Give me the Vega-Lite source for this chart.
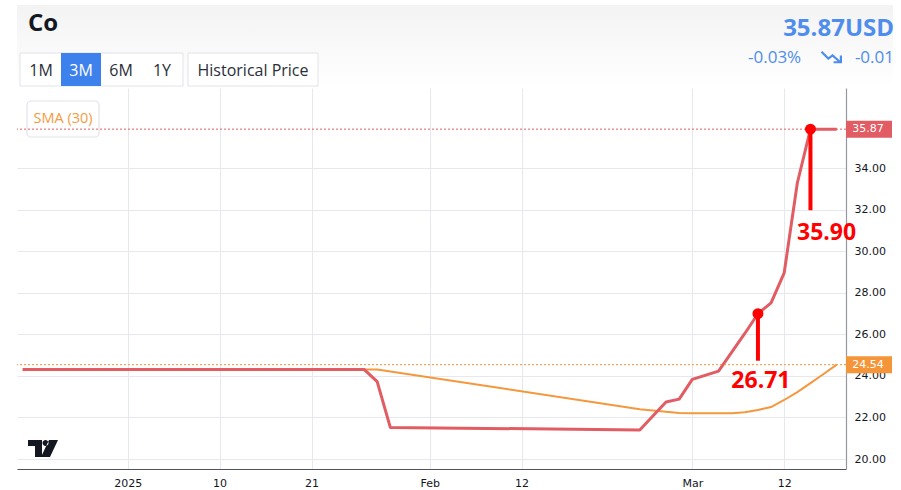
{
  "$schema": "https://vega.github.io/schema/vega-lite/v6.json",
  "width": 829,
  "height": 381,
  "autosize": "none",
  "padding": {"left": 17, "top": 88, "right": 55, "bottom": 21},
  "background": "white",
  "config": {
    "view": {"stroke": null},
    "axis": {"labelFont": "DejaVu Sans", "labelFontSize": 11, "labelColor": "#131722", "gridColor": "#e6e8ee", "gridWidth": 1, "ticks": false}
  },
  "datasets": {
    "price": [
      {"date": "2024-12-20", "value": 24.31},
      {"date": "2025-01-27", "value": 24.31},
      {"date": "2025-01-28", "value": 23.72},
      {"date": "2025-01-29", "value": 21.52},
      {"date": "2025-02-25", "value": 21.40},
      {"date": "2025-02-27", "value": 22.74},
      {"date": "2025-02-28", "value": 22.88},
      {"date": "2025-03-03", "value": 23.83},
      {"date": "2025-03-05", "value": 24.23},
      {"date": "2025-03-07", "value": 26.04},
      {"date": "2025-03-10", "value": 26.99},
      {"date": "2025-03-11", "value": 27.51},
      {"date": "2025-03-12", "value": 28.96},
      {"date": "2025-03-13", "value": 33.28},
      {"date": "2025-03-14", "value": 35.87},
      {"date": "2025-03-18", "value": 35.87}
    ],
    "sma": [
      {"date": "2024-12-20", "value": 24.31},
      {"date": "2025-01-28", "value": 24.31},
      {"date": "2025-02-25", "value": 22.40},
      {"date": "2025-02-26", "value": 22.33},
      {"date": "2025-02-27", "value": 22.27},
      {"date": "2025-02-28", "value": 22.22},
      {"date": "2025-03-03", "value": 22.20},
      {"date": "2025-03-06", "value": 22.20},
      {"date": "2025-03-07", "value": 22.25},
      {"date": "2025-03-10", "value": 22.36},
      {"date": "2025-03-11", "value": 22.50},
      {"date": "2025-03-12", "value": 22.84},
      {"date": "2025-03-13", "value": 23.22},
      {"date": "2025-03-14", "value": 23.65},
      {"date": "2025-03-17", "value": 24.09},
      {"date": "2025-03-18", "value": 24.54}
    ],
    "levels": [
      {"series": "price", "value": 35.87, "label": "35.87"},
      {"series": "sma", "value": 24.54, "label": "24.54"}
    ],
    "notes": [
      {"date": "2025-03-10", "value": 26.99, "end": 24.73, "label": "26.71", "labelDate": "2025-03-10", "labelValue": 23.40},
      {"date": "2025-03-14", "value": 35.87, "end": 31.97, "label": "35.90", "labelDate": "2025-03-17", "labelValue": 30.53}
    ]
  },
  "layer": [
    {
      "data": {"values": [{}]},
      "mark": {"type": "rect", "x": 0, "x2": 876, "y": -83, "y2": 0,
        "fill": {"gradient": "linear", "x1": 0, "y1": 0, "x2": 0, "y2": 1, "stops": [{"offset": 0, "color": "#f3f3f3"}, {"offset": 1, "color": "#ffffff"}]}},
      "encoding": {}
    },
    {
      "data": {"values": [{}]},
      "mark": {"type": "rule", "x": -16, "x2": -16, "y": -88, "y2": 402, "color": "#8a8a8a", "strokeWidth": 2.5},
      "encoding": {}
    },
    {
      "data": {"values": [{}]},
      "mark": {"type": "rule", "x": 0, "x2": 876, "y": -83, "y2": -83, "color": "#555555", "strokeWidth": 1.5},
      "encoding": {}
    },
    {
      "data": {"values": [{}]},
      "mark": {"type": "rule", "x": 0, "x2": 0, "y": -83, "y2": 402, "color": "#444444", "strokeWidth": 1.5},
      "encoding": {}
    },
    {
      "data": {"values": [{}]},
      "mark": {"type": "rule", "x": 876, "x2": 876, "y": -83, "y2": 402, "color": "#444444", "strokeWidth": 1.5},
      "encoding": {}
    },
    {
      "data": {"values": [{}]},
      "mark": {"type": "rect", "x": 3, "x2": 166, "y": -35, "y2": -2, "fill": "white", "stroke": "#e0e3eb", "strokeWidth": 1}
    },
    {
      "data": {"values": [{}]},
      "mark": {"type": "rect", "x": 44, "x2": 84, "y": -35, "y2": -2, "fill": "#3d81ec"}
    },
    {
      "data": {"values": [{}]},
      "mark": {"type": "rule", "x": 125, "x2": 125, "y": -35, "y2": -2, "color": "#e0e3eb", "strokeWidth": 1},
      "encoding": {}
    },
    {
      "data": {"values": [{}]},
      "mark": {"type": "rect", "x": 171, "x2": 301, "y": -35, "y2": -2, "fill": "white", "stroke": "#e0e3eb", "strokeWidth": 1}
    },
    {
      "data": {"values": [{}]},
      "mark": {"type": "text", "x": 24, "y": -12, "text": "1M", "align": "center", "baseline": "alphabetic", "font": "Open Sans", "fontSize": 16, "color": "#2a2e39"}
    },
    {
      "data": {"values": [{}]},
      "mark": {"type": "text", "x": 64, "y": -12, "text": "3M", "align": "center", "baseline": "alphabetic", "font": "Open Sans", "fontSize": 16, "color": "#ffffff"}
    },
    {
      "data": {"values": [{}]},
      "mark": {"type": "text", "x": 104, "y": -12, "text": "6M", "align": "center", "baseline": "alphabetic", "font": "Open Sans", "fontSize": 16, "color": "#2a2e39"}
    },
    {
      "data": {"values": [{}]},
      "mark": {"type": "text", "x": 145, "y": -12, "text": "1Y", "align": "center", "baseline": "alphabetic", "font": "Open Sans", "fontSize": 16, "color": "#2a2e39"}
    },
    {
      "data": {"values": [{}]},
      "mark": {"type": "text", "x": 236, "y": -12, "text": "Historical Price", "align": "center", "baseline": "alphabetic", "font": "Open Sans", "fontSize": 16, "color": "#2a2e39"}
    },
    {
      "data": {"values": [{}]},
      "mark": {"type": "text", "x": 11, "y": -57, "text": "Co", "align": "left", "baseline": "alphabetic", "font": "Open Sans", "fontSize": 24, "fontWeight": "bold", "color": "#131722"}
    },
    {
      "data": {"values": [{}]},
      "mark": {"type": "text", "x": 877, "y": -52, "text": "35.87USD", "align": "right", "baseline": "alphabetic", "font": "Open Sans", "fontSize": 24, "fontWeight": "bold", "color": "#4e8ded"}
    },
    {
      "data": {"values": [{}]},
      "mark": {"type": "text", "x": 731, "y": -25, "text": "-0.03%", "align": "left", "baseline": "alphabetic", "font": "Open Sans", "fontSize": 17, "color": "#4e8ded"}
    },
    {
      "data": {"values": [{}]},
      "mark": {"type": "point", "x": 815, "y": -31, "shape": "M-1,-0.5L-0.35,0.15L0.05,-0.15L0.8,0.5M0.15,0.5L0.85,0.5L0.85,-0.15", "size": 441, "filled": false, "stroke": "#4e8ded", "strokeWidth": 2.2, "opacity": 1}
    },
    {
      "data": {"values": [{}]},
      "mark": {"type": "text", "x": 877, "y": -25, "text": "-0.01", "align": "right", "baseline": "alphabetic", "font": "Open Sans", "fontSize": 17, "color": "#4e8ded"}
    },
    {
      "data": {"values": [{}]},
      "mark": {"type": "rect", "x": 10, "x2": 82, "y": 13, "y2": 49, "fill": "white", "stroke": "#e0e3eb", "strokeWidth": 1.2, "cornerRadius": 4}
    },
    {
      "data": {"values": [{}]},
      "mark": {"type": "text", "x": 46, "y": 31, "text": "SMA (30)", "align": "center", "baseline": "middle", "font": "Open Sans", "fontSize": 14.5, "color": "#f59b3f"}
    },
    {
      "data": {"values": [{}]},
      "mark": {"type": "point", "x": 26, "y": 360.5, "size": 900, "filled": true, "color": "#131722", "opacity": 1,
        "shape": "M-1,-0.567H-0.067V0.567H-0.533V-0.167H-1Z M-0.033,-0.367a0.2,0.2 0 1,0 0.4,0a0.2,0.2 0 1,0 -0.4,0Z M0.4,-0.567H1L0.467,0.567H-0.133Z"}
    },
    {
      "data": {"name": "sma"},
      "mark": {"type": "line", "color": "#f5973c", "strokeWidth": 2},
      "encoding": {
        "x": {"field": "date", "type": "ordinal", "title": null,
          "scale": {"type": "point", "round": false, "padding": 0.569, "align": 0.379, "domain": ["2024-12-20","2024-12-23","2024-12-24","2024-12-25","2024-12-26","2024-12-27","2024-12-30","2024-12-31","2025-01-01","2025-01-02","2025-01-03","2025-01-06","2025-01-07","2025-01-08","2025-01-09","2025-01-10","2025-01-13","2025-01-14","2025-01-15","2025-01-16","2025-01-17","2025-01-20","2025-01-21","2025-01-22","2025-01-23","2025-01-24","2025-01-27","2025-01-28","2025-01-29","2025-01-30","2025-01-31","2025-02-03","2025-02-04","2025-02-05","2025-02-06","2025-02-07","2025-02-10","2025-02-11","2025-02-12","2025-02-13","2025-02-14","2025-02-17","2025-02-18","2025-02-19","2025-02-20","2025-02-21","2025-02-24","2025-02-25","2025-02-26","2025-02-27","2025-02-28","2025-03-03","2025-03-04","2025-03-05","2025-03-06","2025-03-07","2025-03-10","2025-03-11","2025-03-12","2025-03-13","2025-03-14","2025-03-17","2025-03-18"]},
          "axis": {"values": ["2025-01-01","2025-01-10","2025-01-21","2025-02-03","2025-02-12","2025-03-03","2025-03-12"],
            "labelExpr": "{'2025-01-01':'2025','2025-01-10':'10','2025-01-21':'21','2025-02-03':'Feb','2025-02-12':'12','2025-03-03':'Mar','2025-03-12':'12'}[datum.value]",
            "labelAngle": 0, "labelPadding": 8, "grid": true, "domain": true, "domainColor": "#50535e", "domainWidth": 1.2}},
        "y": {"field": "value", "type": "quantitative", "title": null,
          "scale": {"domain": [19.52, 37.85], "nice": false, "zero": false},
          "axis": {"orient": "right", "values": [20, 22, 24, 26, 28, 30, 32, 34], "format": ".2f", "labelPadding": 8, "grid": true, "domain": true, "domainColor": "#9598a1", "domainWidth": 1.2}}
      }
    },
    {
      "data": {"name": "price"},
      "mark": {"type": "line", "color": "#e15c63", "strokeWidth": 3, "strokeJoin": "round"},
      "encoding": {
        "x": {"field": "date", "type": "ordinal", "title": null},
        "y": {"field": "value", "type": "quantitative", "title": null}
      }
    },
    {
      "data": {"name": "levels"},
      "mark": {"type": "rule", "strokeDash": [2, 2], "strokeWidth": 1},
      "encoding": {
        "y": {"field": "value", "type": "quantitative", "title": null},
        "color": {"field": "series", "type": "nominal", "legend": null, "scale": {"domain": ["price", "sma"], "range": ["#e15c63", "#f5953a"]}}
      }
    },
    {
      "data": {"name": "levels"},
      "mark": {"type": "point", "filled": true, "opacity": 1, "size": 2116, "shape": "M0,-0.37H2V0.37H0Z"},
      "encoding": {
        "x": {"value": "width"},
        "y": {"field": "value", "type": "quantitative", "title": null},
        "color": {"field": "series", "type": "nominal", "legend": null}
      }
    },
    {
      "data": {"name": "levels"},
      "mark": {"type": "text", "dx": 22, "align": "center", "baseline": "middle", "font": "DejaVu Sans", "fontSize": 11, "color": "white"},
      "encoding": {
        "x": {"value": "width"},
        "y": {"field": "value", "type": "quantitative", "title": null},
        "text": {"field": "label"}
      }
    },
    {
      "data": {"name": "notes"},
      "mark": {"type": "rule", "color": "#ff0000", "strokeWidth": 4},
      "encoding": {
        "x": {"field": "date", "type": "ordinal", "title": null},
        "y": {"field": "value", "type": "quantitative", "title": null},
        "y2": {"field": "end"}
      }
    },
    {
      "data": {"name": "notes"},
      "mark": {"type": "point", "filled": true, "opacity": 1, "color": "#ff0000", "size": 120, "shape": "circle"},
      "encoding": {
        "x": {"field": "date", "type": "ordinal", "title": null},
        "y": {"field": "value", "type": "quantitative", "title": null}
      }
    },
    {
      "data": {"name": "notes"},
      "mark": {"type": "text", "dx": 3, "align": "center", "baseline": "alphabetic", "font": "Open Sans", "fontSize": 23, "fontWeight": "bold", "color": "#ff0000"},
      "encoding": {
        "x": {"field": "labelDate", "type": "ordinal", "title": null},
        "y": {"field": "labelValue", "type": "quantitative", "title": null},
        "text": {"field": "label"}
      }
    }
  ]
}
